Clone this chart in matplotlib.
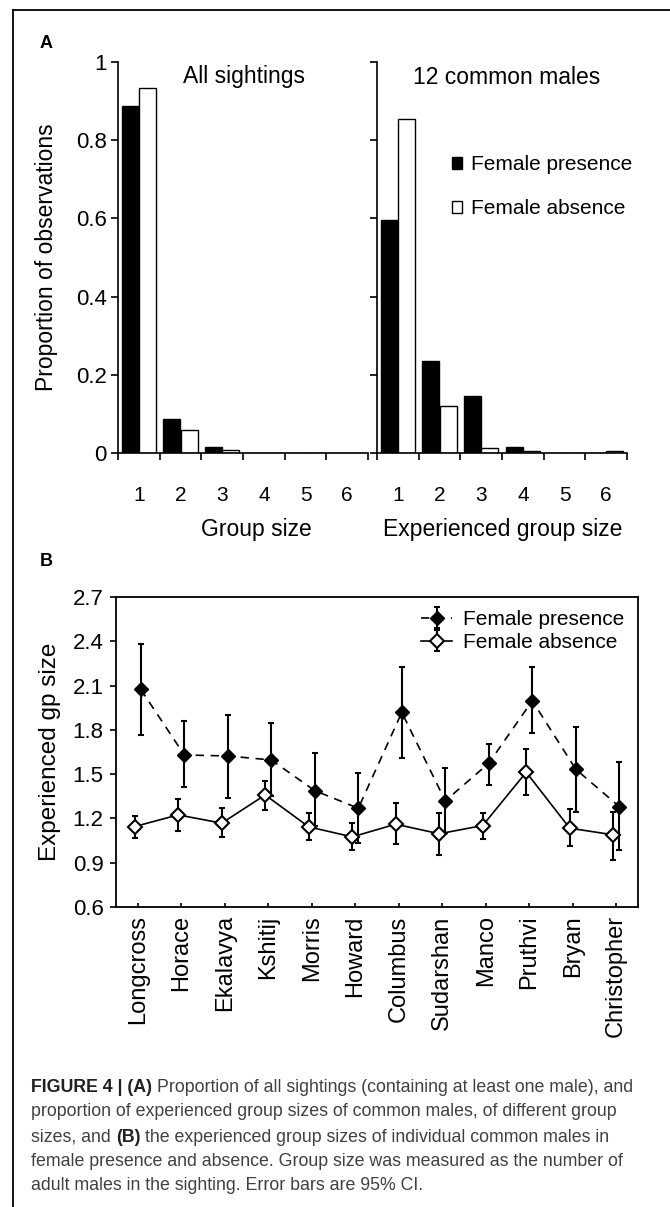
import matplotlib
matplotlib.use('Agg')
import matplotlib.pyplot as plt
import numpy as np
from matplotlib.patches import Patch
from matplotlib.lines import Line2D

plt.rcParams['font.family'] = ['Liberation Sans', 'DejaVu Sans']

# Panel A: proportion of observations by group size
group_sizes = [1, 2, 3, 4, 5, 6]
all_presence = [0.887, 0.088, 0.015, 0, 0, 0]
all_absence = [0.933, 0.059, 0.0085, 0, 0, 0]
common_presence = [0.597, 0.236, 0.146, 0.015, 0, 0]
common_absence = [0.853, 0.12, 0.014, 0.004, 0, 0.004]
prop_ticks = [0, 0.2, 0.4, 0.6, 0.8, 1]
prop_labels = ['0', '0.2', '0.4', '0.6', '0.8', '1']

# Panel B: experienced group size per common male (mean and 95% CI)
males = ['Longcross', 'Horace', 'Ekalavya', 'Kshitij', 'Morris', 'Howard',
         'Columbus', 'Sudarshan', 'Manco', 'Pruthvi', 'Bryan', 'Christopher']
pres_mean = [2.074, 1.63, 1.623, 1.596, 1.388, 1.269, 1.918, 1.319, 1.574, 1.997, 1.533, 1.28]
pres_low = [1.765, 1.415, 1.34, 1.35, 1.15, 1.033, 1.607, 1.10, 1.427, 1.776, 1.246, 0.987]
pres_high = [2.38, 1.86, 1.90, 1.844, 1.645, 1.506, 2.227, 1.54, 1.704, 2.223, 1.817, 1.582]
abs_mean = [1.145, 1.224, 1.168, 1.359, 1.143, 1.075, 1.161, 1.096, 1.152, 1.513, 1.134, 1.089]
abs_low = [1.068, 1.116, 1.073, 1.258, 1.055, 0.987, 1.028, 0.953, 1.06, 1.359, 1.016, 0.92]
abs_high = [1.219, 1.332, 1.269, 1.456, 1.24, 1.172, 1.303, 1.236, 1.24, 1.668, 1.265, 1.246]
gp_ticks = [0.6, 0.9, 1.2, 1.5, 1.8, 2.1, 2.4, 2.7]

W, H = 670, 1207
fig = plt.figure(figsize=(W / 100, H / 100), dpi=100)


def px_axes(x0, y0, x1, y1):
    return fig.add_axes([x0 / W, 1 - y1 / H, (x1 - x0) / W, (y1 - y0) / H])


def px_text(x, y, s, **kw):
    return fig.text(x / W, 1 - y / H, s, **kw)


# outer frame (top and left edges only)
fig.add_artist(Line2D([13 / W, 13 / W], [0, 1 - 10 / H], transform=fig.transFigure, color='black', lw=1.3))
fig.add_artist(Line2D([13 / W, 1], [1 - 10 / H, 1 - 10 / H], transform=fig.transFigure, color='black', lw=1.3))

# ---- panel A ----
axL = px_axes(118, 62, 368, 453)
axR = px_axes(377, 62, 627, 453)
x = np.arange(1, 7)
for ax, pres, absn in [(axL, all_presence, all_absence), (axR, common_presence, common_absence)]:
    ax.bar(x - 0.21, pres, width=0.41, color='black', edgecolor='black', linewidth=1)
    ax.bar(x + 0.205, absn, width=0.41, color='white', edgecolor='black', linewidth=1)
    ax.set_xlim(0.5, 6.5)
    ax.set_ylim(0, 1)
    ax.spines['top'].set_visible(False)
    ax.spines['right'].set_visible(False)
    ax.spines['left'].set_linewidth(1.2)
    ax.spines['bottom'].set_linewidth(1.2)
    ax.set_xticks(np.arange(0.5, 7, 1))
    ax.set_xticklabels([])
    ax.set_xticks(x, minor=True)
    ax.set_xticklabels([str(g) for g in group_sizes], minor=True)
    ax.tick_params(axis='x', which='major', direction='out', length=5, width=1.2)
    ax.tick_params(axis='x', which='minor', length=0, pad=24, labelsize=15)
    ax.set_yticks(prop_ticks)
    ax.set_yticklabels(prop_labels)
    ax.tick_params(axis='y', direction='out', length=5, width=1.2, labelsize=16, pad=3)
axR.tick_params(axis='y', labelleft=False)

px_text(244, 77, 'All sightings', fontsize=16.5, ha='center', va='center')
px_text(507, 77, '12 common males', fontsize=16.5, ha='center', va='center')
px_text(47, 257, 'Proportion of observations', fontsize=16.5, rotation=90, ha='center', va='center')
px_text(256, 530, 'Group size', fontsize=16.5, ha='center', va='center')
px_text(503, 530, 'Experienced group size', fontsize=16.5, ha='center', va='center')
px_text(46, 43, 'A', fontsize=13, fontweight='bold', ha='center', va='center')

axR.legend(handles=[Patch(facecolor='black', edgecolor='black'),
                    Patch(facecolor='white', edgecolor='black')],
           labels=['Female presence', 'Female absence'],
           loc='upper left', bbox_to_anchor=(452 / W, 1 - 155 / H), bbox_transform=fig.transFigure,
           frameon=False, fontsize=15, handlelength=0.5, handleheight=0.5,
           handletextpad=0.4, labelspacing=1.2, borderpad=0, borderaxespad=0)

# ---- panel B ----
axB = px_axes(116, 597, 638, 907)
xb = np.arange(1, 13)
pm, pl, ph = np.array(pres_mean), np.array(pres_low), np.array(pres_high)
am, al, ah = np.array(abs_mean), np.array(abs_low), np.array(abs_high)
axB.errorbar(xb + 0.07, pm, yerr=[pm - pl, ph - pm], fmt='D', linestyle='--', dashes=(5, 4),
             color='black', mfc='black', mec='black', ms=7, lw=1.2,
             elinewidth=1.5, capsize=2, capthick=1.5, label='Female presence', zorder=3)
axB.errorbar(xb - 0.07, am, yerr=[am - al, ah - am], fmt='D', linestyle='-',
             color='black', mfc='white', mec='black', mew=1.5, ms=7, lw=1.2,
             elinewidth=1.5, capsize=2, capthick=1.5, label='Female absence', zorder=4)
axB.set_xlim(0.5, 12.5)
axB.set_ylim(0.6, 2.7)
axB.set_yticks(gp_ticks)
axB.set_yticklabels([f'{t:.1f}' for t in gp_ticks])
axB.set_xticks(xb)
axB.set_xticklabels(males, rotation=90)
axB.tick_params(axis='x', direction='in', length=3, width=1.2, labelsize=17, pad=6)
axB.tick_params(axis='y', direction='out', length=4, width=1.2, labelsize=16, pad=5)
for s in axB.spines.values():
    s.set_linewidth(1.3)
axB.legend(loc='upper left', bbox_to_anchor=(421 / W, 1 - 610 / H), bbox_transform=fig.transFigure,
           frameon=False, fontsize=15, handlelength=1.5, handletextpad=0.5,
           labelspacing=0.2, borderpad=0, borderaxespad=0)

px_text(50, 752, 'Experienced gp size', fontsize=17.5, rotation=90, ha='center', va='center')
px_text(46, 561, 'B', fontsize=13, fontweight='bold', ha='center', va='center')

# ---- caption ----
cap_lines = [
    [('FIGURE 4 | (A)', True), ('Proportion of all sightings (containing at least one male), and', False)],
    [('proportion of experienced group sizes of common males, of different group', False)],
    [('sizes, and', False), ('(B)', True), ('the experienced group sizes of individual common males in', False)],
    [('female presence and absence. Group size was measured as the number of', False)],
    [('adult males in the sighting. Error bars are 95% CI.', False)],
]
cap_y = [1088, 1112, 1137, 1161, 1185]
cap_size = 12.8
renderer = fig.canvas.get_renderer()
probe1 = px_text(0, 0, 'xx', fontsize=cap_size)
probe2 = px_text(0, 0, 'x x', fontsize=cap_size)
space_w = probe2.get_window_extent(renderer).width - probe1.get_window_extent(renderer).width
probe1.remove()
probe2.remove()
for y, parts in zip(cap_y, cap_lines):
    xpos = 31
    for txt, bold in parts:
        t = px_text(xpos, y, txt, fontsize=cap_size, ha='left', va='center',
                    fontweight='bold' if bold else 'normal',
                    color='#231f20' if bold else '#404040')
        xpos += t.get_window_extent(renderer).width + space_w

fig.savefig('out.png', dpi=100)
